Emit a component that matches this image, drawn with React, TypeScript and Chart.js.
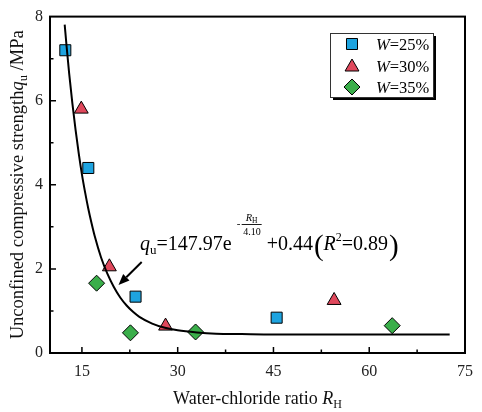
import React, { useEffect, useRef } from "react";
import { Chart, registerables } from "chart.js";
Chart.register(...registerables);

const FONT = '"Liberation Serif", "Times New Roman", serif';

// W = 25 % (squares)
const w25X = [12.4, 16.0, 23.4, 45.5];
const w25Y = [7.2, 4.4, 1.34, 0.84];
// W = 30 % (triangles)
const w30X = [14.9, 19.3, 28.1, 54.5];
const w30Y = [5.8, 2.05, 0.64, 1.25];
// W = 35 % (diamonds)
const w35X = [17.3, 22.6, 32.8, 63.6];
const w35Y = [1.66, 0.48, 0.5, 0.65];
// fitted curve
const fitX = [12.3, 12.6, 13, 13.5, 14, 14.5, 15, 15.5, 16, 16.5, 17, 18, 19, 20, 21, 22, 23, 24, 26, 28, 30, 33, 36, 40, 45, 50, 60, 72.6];
const fitY = [7.81, 7.29, 6.65, 5.94, 5.31, 4.75, 4.25, 3.82, 3.43, 3.09, 2.78, 2.27, 1.88, 1.57, 1.32, 1.13, 0.98, 0.86, 0.7, 0.6, 0.54, 0.49, 0.46, 0.45, 0.44, 0.44, 0.44, 0.44];

const xTicks = [15, 30, 45, 60, 75];
const xMinor = [22.5, 37.5, 52.5, 67.5];
const yTicks = [0, 2, 4, 6, 8];
const yMinor = [1, 3, 5, 7];

const legendLabels = ["=25%", "=30%", "=35%"];
const BLUE = "#1ea4e0";
const RED = "#e0485c";
const GREEN = "#3aae4a";

type Part = { t: string; size: number; italic?: boolean; dy?: number };

function drawParts(ctx: CanvasRenderingContext2D, parts: Part[], x: number, y: number) {
  for (const p of parts) {
    ctx.font = `${p.italic ? "italic " : ""}${p.size}px ${FONT}`;
    ctx.fillText(p.t, x, y + (p.dy || 0));
    x += ctx.measureText(p.t).width;
  }
  return x;
}
function partsWidth(ctx: CanvasRenderingContext2D, parts: Part[]) {
  let w = 0;
  for (const p of parts) {
    ctx.font = `${p.italic ? "italic " : ""}${p.size}px ${FONT}`;
    w += ctx.measureText(p.t).width;
  }
  return w;
}

function drawMarker(ctx: CanvasRenderingContext2D, style: string, x: number, y: number, r: number) {
  ctx.beginPath();
  if (style === "rect") {
    const s = r * Math.SQRT1_2;
    ctx.rect(x - s, y - s, 2 * s, 2 * s);
  } else if (style === "triangle") {
    ctx.moveTo(x, y - r);
    ctx.lineTo(x + r * Math.sin((2 * Math.PI) / 3), y - r * Math.cos((2 * Math.PI) / 3));
    ctx.lineTo(x + r * Math.sin((4 * Math.PI) / 3), y - r * Math.cos((4 * Math.PI) / 3));
    ctx.closePath();
  } else {
    ctx.moveTo(x, y - r);
    ctx.lineTo(x + r, y);
    ctx.lineTo(x, y + r);
    ctx.lineTo(x - r, y);
    ctx.closePath();
  }
  ctx.fill();
  ctx.stroke();
}

const decor = {
  id: "decor",
  afterDraw(chart: any) {
    const ctx: CanvasRenderingContext2D = chart.ctx;
    const { left, right, top, bottom } = chart.chartArea;
    const xs = chart.scales.x;
    const ys = chart.scales.y;
    ctx.save();
    ctx.strokeStyle = "#000";
    ctx.fillStyle = "#000";
    // frame
    ctx.lineWidth = 2;
    ctx.strokeRect(left, top, right - left, bottom - top);
    // inner ticks
    ctx.lineWidth = 1.5;
    ctx.beginPath();
    for (const v of xTicks) {
      const px = xs.getPixelForValue(v);
      if (px > left + 2 && px < right - 2) { ctx.moveTo(px, bottom); ctx.lineTo(px, bottom - 6); }
    }
    for (const v of xMinor) {
      const px = xs.getPixelForValue(v);
      ctx.moveTo(px, bottom); ctx.lineTo(px, bottom - 3.5);
    }
    for (const v of yTicks) {
      const py = ys.getPixelForValue(v);
      if (py > top + 2 && py < bottom - 2) { ctx.moveTo(left, py); ctx.lineTo(left + 6, py); }
    }
    for (const v of yMinor) {
      const py = ys.getPixelForValue(v);
      ctx.moveTo(left, py); ctx.lineTo(left + 3.5, py);
    }
    ctx.stroke();

    // legend
    const lx = 330, ly = 33, lw = 103, lh = 64;
    ctx.fillStyle = "#000";
    ctx.fillRect(lx + 3, ly + 3, lw, lh);
    ctx.fillStyle = "#fff";
    ctx.fillRect(lx, ly, lw, lh);
    ctx.lineWidth = 1;
    ctx.strokeStyle = "#333";
    ctx.strokeRect(lx + 0.5, ly + 0.5, lw, lh);
    const styles = ["rect", "triangle", "rectRot"];
    const cols = [BLUE, RED, GREEN];
    const rads = [7.8, 8, 8];
    for (let i = 0; i < 3; i++) {
      const cy = 44 + i * 21.5;
      ctx.fillStyle = cols[i];
      ctx.strokeStyle = "#000";
      ctx.lineWidth = 1;
      drawMarker(ctx, styles[i], 352, cy + (i === 1 ? 1.5 : 0), rads[i]);
      ctx.fillStyle = "#000";
      ctx.textBaseline = "alphabetic";
      ctx.textAlign = "left";
      drawParts(ctx, [{ t: "W", size: 16.5, italic: true }, { t: legendLabels[i], size: 16.5 }], 376, cy + 6);
    }

    // axis titles
    ctx.fillStyle = "#111";
    const xt: Part[] = [
      { t: "Water-chloride ratio ", size: 18 },
      { t: "R", size: 18, italic: true },
      { t: "H", size: 12, dy: 4 },
    ];
    const xw = partsWidth(ctx, xt);
    drawParts(ctx, xt, (left + right) / 2 - xw / 2, 404);

    const yt: Part[] = [
      { t: "Unconfined compressive strength", size: 18.5 },
      { t: "q", size: 18.5, italic: true },
      { t: "u", size: 12.5, dy: 4 },
      { t: " /MPa", size: 18.5 },
    ];
    const yw = partsWidth(ctx, yt);
    ctx.save();
    ctx.translate(23, (top + bottom) / 2);
    ctx.rotate(-Math.PI / 2);
    drawParts(ctx, yt, -yw / 2, 0);
    ctx.restore();

    // annotation
    const base = 250;
    ctx.fillStyle = "#000";
    let ax = drawParts(ctx, [
      { t: "q", size: 20, italic: true },
      { t: "u", size: 13, dy: 4 },
      { t: "=147.97e", size: 20 },
    ], 140, base);
    // exponent
    ctx.font = `11px ${FONT}`;
    ctx.fillText("-", ax + 5, base - 23);
    const fx = ax + 10;
    drawParts(ctx, [{ t: "R", size: 10.5, italic: true }, { t: "H", size: 7.5, dy: 2 }], fx + 4, base - 29);
    ctx.strokeStyle = "#000";
    ctx.lineWidth = 0.9;
    ctx.beginPath();
    ctx.moveTo(fx, base - 25.5);
    ctx.lineTo(fx + 20, base - 25.5);
    ctx.stroke();
    ctx.font = `10px ${FONT}`;
    ctx.fillText("4.10", fx + 1.5, base - 15);
    ax = drawParts(ctx, [{ t: " +0.44", size: 20 }], fx + 20, base);
    // big parentheses
    ctx.font = `29px ${FONT}`;
    ctx.fillText("(", ax + 1, base + 5);
    ax += ctx.measureText("(").width + 1;
    ax = drawParts(ctx, [
      { t: "R", size: 20, italic: true },
      { t: "2", size: 12, dy: -9 },
      { t: "=0.89", size: 20 },
    ], ax, base);
    ctx.font = `29px ${FONT}`;
    ctx.fillText(")", ax + 1, base + 5);

    // arrow
    ctx.strokeStyle = "#000";
    ctx.lineWidth = 2;
    const x1 = 141.7, y1 = 262, x2 = 118.5, y2 = 285;
    const ang = Math.atan2(y2 - y1, x2 - x1);
    const hl = 11, hw = 4.5;
    const bx = x2 - Math.cos(ang) * hl, by = y2 - Math.sin(ang) * hl;
    ctx.beginPath();
    ctx.moveTo(x1, y1);
    ctx.lineTo(bx, by);
    ctx.stroke();
    ctx.beginPath();
    ctx.moveTo(x2, y2);
    ctx.lineTo(bx + Math.sin(ang) * hw, by - Math.cos(ang) * hw);
    ctx.lineTo(bx - Math.sin(ang) * hw, by + Math.cos(ang) * hw);
    ctx.closePath();
    ctx.fill();
    ctx.restore();
  },
};

export default function App() {
  const ref = useRef<HTMLCanvasElement | null>(null);
  useEffect(() => {
    if (!ref.current) return;
    const pts = (xs: number[], ys: number[]) => xs.map((x, i) => ({ x, y: ys[i] }));
    const chart = new Chart(ref.current, {
      type: "scatter",
      data: {
        datasets: [
          {
            label: "fit",
            data: pts(fitX, fitY),
            showLine: true,
            borderColor: "#000",
            borderWidth: 2,
            pointRadius: 0,
            cubicInterpolationMode: "monotone",
            order: 0,
          } as any,
          {
            label: "W=25%",
            data: pts(w25X, w25Y),
            pointStyle: "rect",
            pointRadius: 7.8,
            backgroundColor: BLUE,
            borderColor: "#000",
            borderWidth: 1,
            order: 1,
          },
          {
            label: "W=30%",
            data: pts(w30X, w30Y),
            pointStyle: "triangle",
            pointRadius: 8,
            backgroundColor: RED,
            borderColor: "#000",
            borderWidth: 1,
            order: 1,
          },
          {
            label: "W=35%",
            data: pts(w35X, w35Y),
            pointStyle: "rectRot",
            pointRadius: 8,
            backgroundColor: GREEN,
            borderColor: "#000",
            borderWidth: 1,
            order: 1,
          },
        ],
      },
      options: {
        responsive: false,
        animation: false,
        devicePixelRatio: 1,
        layout: { padding: { left: 0, right: 9, top: 15, bottom: 0 } },
        plugins: { legend: { display: false }, tooltip: { enabled: false } },
        scales: {
          x: {
            type: "linear",
            min: 10,
            max: 75,
            grid: { display: false, drawTicks: false },
            border: { display: false },
            afterBuildTicks: (s: any) => { s.ticks = xTicks.map((v) => ({ value: v })); },
            afterFit: (s: any) => { s.height = 59; },
            ticks: { font: { family: FONT, size: 16 }, color: "#222", padding: 9, maxRotation: 0 },
          },
          y: {
            type: "linear",
            min: 0,
            max: 8,
            grid: { display: false, drawTicks: false },
            border: { display: false },
            afterBuildTicks: (s: any) => { s.ticks = yTicks.map((v) => ({ value: v })); },
            afterFit: (s: any) => { s.width = 50; },
            ticks: { font: { family: FONT, size: 16 }, color: "#222", padding: 7 },
          },
        },
      },
      plugins: [decor],
    });
    return () => chart.destroy();
  }, []);
  return (
    <div style={{ position: "fixed", left: 0, top: 0, width: 482, height: 412, background: "#fff" }}>
      <canvas ref={ref} width={482} height={412} style={{ width: 482, height: 412 }} />
    </div>
  );
}
